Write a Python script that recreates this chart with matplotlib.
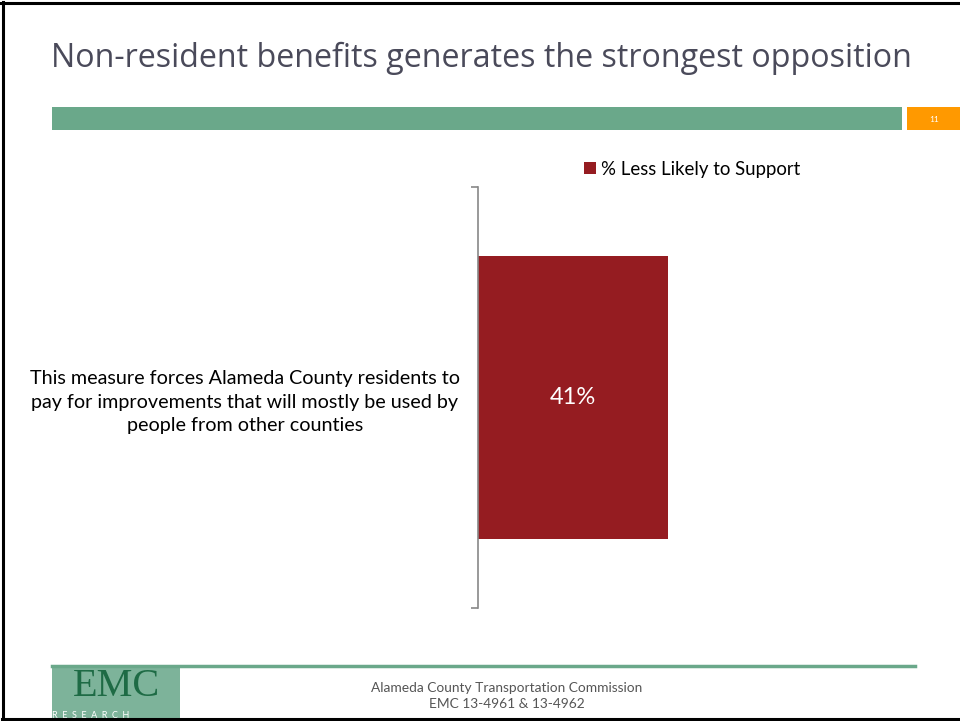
import matplotlib
matplotlib.use("Agg")
import matplotlib.pyplot as plt
from matplotlib.patches import Rectangle
from matplotlib.lines import Line2D

# chart data
statements = ["This measure forces Alameda County residents to\n"
              "pay for improvements that will mostly be used by\n"
              "people from other counties"]
less_likely = [41]
series_name = "% Less Likely to Support"

title = "Non-resident benefits generates the strongest opposition"
slide_no = "11"
footer = "Alameda County Transportation Commission\nEMC 13-4961 & 13-4962"

BAR_RED = "#951C21"
GREEN = "#6AA88A"
ORANGE = "#FF9900"

W, H = 960, 721
fig = plt.figure(figsize=(W / 100, H / 100), dpi=100)


def fx(px):
    return px / W


def fy(py):
    return 1 - py / H


# slide frame (top, left, bottom edges)
for xs, ys in [([0, 1], [fy(2.5), fy(2.5)]),
               ([fx(3), fx(3)], [fy(2), fy(719)]),
               ([fx(2), 1], [fy(719), fy(719)])]:
    fig.add_artist(Line2D(xs, ys, color="black", lw=2.2))

# title and header bars
fig.text(fx(51), fy(58), title, fontsize=23.2, family="Open Sans",
         color="#4A4A5A", va="center", ha="left")
fig.add_artist(Rectangle((fx(52), fy(130)), fx(902) - fx(52), fy(107) - fy(130),
                         color=GREEN, lw=0))
fig.add_artist(Rectangle((fx(907), fy(130)), 1 - fx(907), fy(107) - fy(130),
                         color=ORANGE, lw=0))
fig.text(fx(934), fy(119), slide_no, fontsize=6, color="white",
         ha="center", va="center", family="Lato")

# bar chart
ax = fig.add_axes([fx(478), fy(608), fx(941) - fx(478), fy(187) - fy(608)])
bars = ax.barh(range(len(less_likely)), less_likely, height=0.67,
               color=BAR_RED, label=series_name)
ax.set_xlim(0, 100)
ax.set_ylim(-0.5, len(less_likely) - 0.5)
ax.invert_yaxis()
for b, v in zip(bars, less_likely):
    ax.text(b.get_width() / 2, b.get_y() + b.get_height() / 2, f"{v}%",
            color="white", fontsize=17, ha="center", va="center", family="Lato")

for s in ["top", "right", "bottom"]:
    ax.spines[s].set_visible(False)
ax.spines["left"].set_color("#888888")
ax.spines["left"].set_linewidth(1.2)
ax.set_xticks([])
ax.set_yticks([-0.5, 0.5], minor=True)
ax.tick_params(axis="y", which="minor", length=5, width=1.2, color="#888888")
ax.set_yticks(range(len(statements)), labels=statements)
ax.tick_params(axis="y", which="major", length=0, pad=168)
for lbl in ax.get_yticklabels():
    lbl.set_horizontalalignment("center")
    lbl.set_multialignment("center")
    lbl.set_fontsize(14.2)
    lbl.set_family("Lato")
    lbl.set_linespacing(1.45)

ax.legend(loc="center left", bbox_to_anchor=(fx(575), fy(169)),
          bbox_transform=fig.transFigure, frameon=False, handlelength=0.65,
          handleheight=0.65, handletextpad=0.25, borderpad=0,
          prop={"family": "Lato", "size": 13.4})

# footer rule, logo and caption
fig.add_artist(Line2D([fx(52), fx(915)], [fy(666), fy(666)], color=GREEN, lw=2.5))
logo = fig.add_axes([fx(52), fy(718), fx(180) - fx(52), fy(668) - fy(718)])
logo.set_axis_off()
logo.add_patch(Rectangle((0, 0), 1, 1, color="#7DB39A", lw=0))
logo.text(0.5, 1.0, "EMC", fontsize=29, family="Liberation Serif",
          color="#1E6B45", ha="center", va="top")
logo.text(0.0, -0.04, "R  E  S  E  A  R  C  H", fontsize=6.5, color="white",
          ha="left", va="bottom", family="Lato")
logo.set_xlim(0, 1)
logo.set_ylim(0, 1)
fig.text(fx(507), fy(696), footer, fontsize=9.9, color="#555555",
         ha="center", va="center", family="Lato", linespacing=1.3)

fig.savefig("out.png", dpi=100)
